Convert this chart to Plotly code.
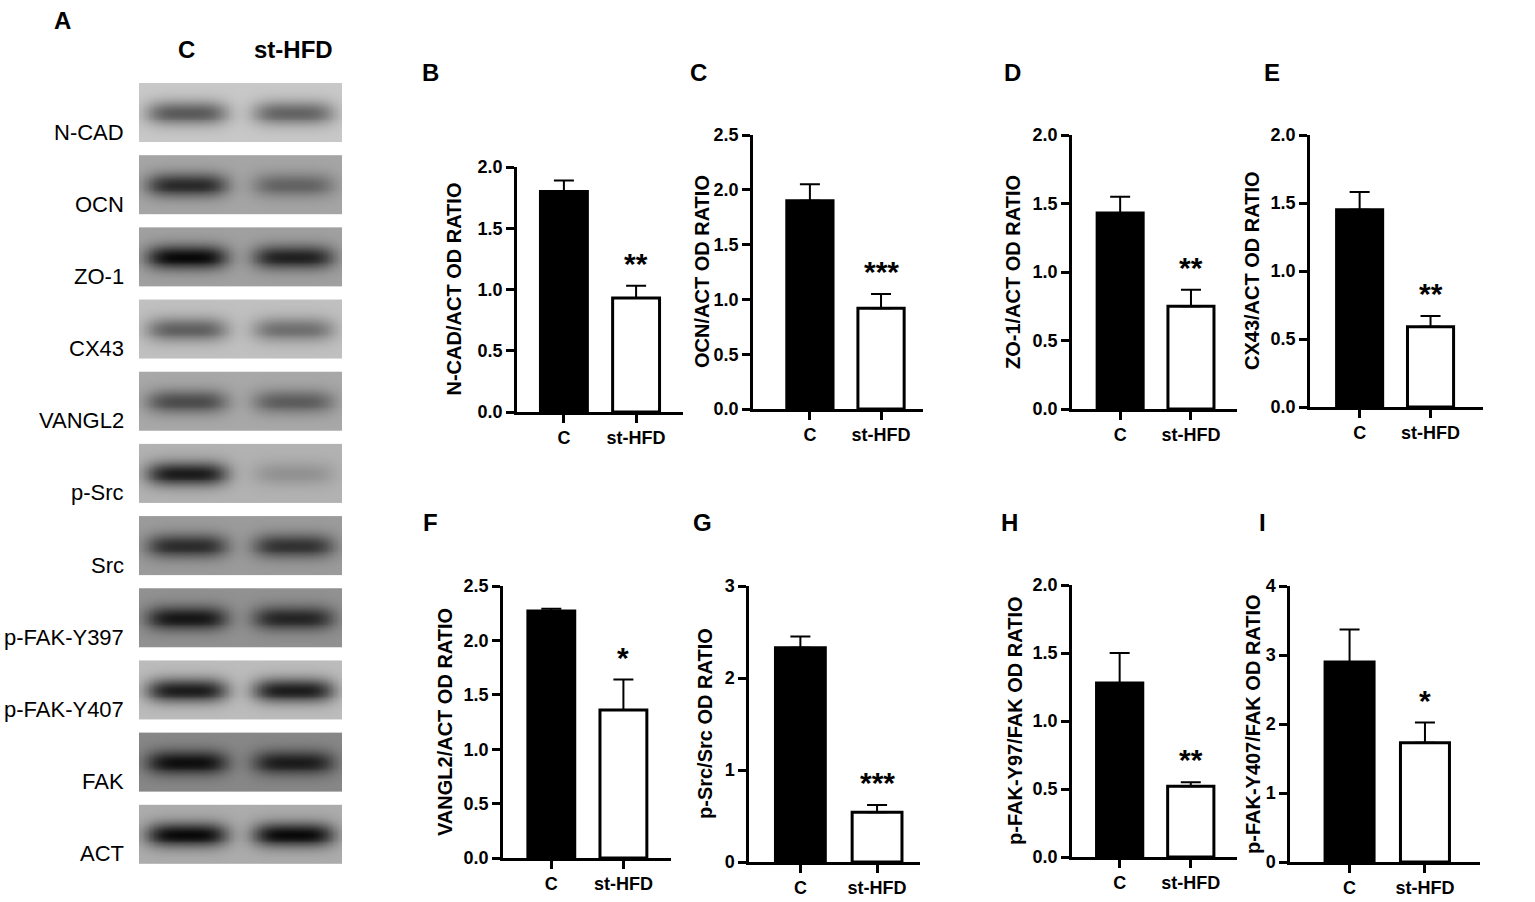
import numpy as np
import plotly.graph_objects as go

W, H = 1535, 902
FONT = "Liberation Sans, Arial, sans-serif"

# ---------------- data: quantification panels B-I ----------------
groups = ["C", "st-HFD"]
panel_letters = ["B", "C", "D", "E", "F", "G", "H", "I"]
y_titles = ["N-CAD/ACT OD RATIO", "OCN/ACT OD RATIO", "ZO-1/ACT OD RATIO",
            "CX43/ACT OD RATIO", "VANGL2/ACT OD RATIO", "p-Src/Src OD RATIO",
            "p-FAK-Y97/FAK OD RATIO", "p-FAK-Y407/FAK OD RATIO"]
means_C = [1.80, 1.90, 1.43, 1.45, 2.27, 2.33, 1.28, 2.90]
means_HFD = [0.93, 0.92, 0.75, 0.59, 1.36, 0.54, 0.52, 1.73]
sem_C = [0.09, 0.15, 0.12, 0.13, 0.02, 0.12, 0.22, 0.47]
sem_HFD = [0.10, 0.13, 0.12, 0.08, 0.28, 0.08, 0.03, 0.29]
stars = ["**", "***", "**", "**", "*", "***", "**", "*"]
y_max = [2.0, 2.5, 2.0, 2.0, 2.5, 3, 2.0, 4]
y_dtick = [0.5, 0.5, 0.5, 0.5, 0.5, 1, 0.5, 1]

# ---------------- data: western blot panel A ----------------
blot_names = ["N-CAD", "OCN", "ZO-1", "CX43", "VANGL2", "p-Src", "Src",
              "p-FAK-Y397", "p-FAK-Y407", "FAK", "ACT"]
band_C = [0.55, 0.75, 0.95, 0.50, 0.55, 0.85, 0.72, 0.85, 0.85, 0.90, 0.95]
band_HFD = [0.50, 0.40, 0.80, 0.42, 0.45, 0.18, 0.68, 0.75, 0.85, 0.80, 0.95]
membrane_gray = [200, 165, 160, 192, 168, 178, 155, 145, 188, 135, 172]

# ---------------- layout geometry (pixels) ----------------
# x-domain px, y-domain px (top of axis, zero line), x range
panel_geo = [
    (517, 683, 167, 412, -0.65, 1.65),
    (753, 923, 135, 409, -0.80, 1.59),
    (1072, 1237, 135, 409, -0.68, 1.65),
    (1310, 1483, 135, 407, -0.70, 1.74),
    (503, 671, 586, 858, -0.67, 1.66),
    (749, 920, 586, 862, -0.67, 1.56),
    (1072, 1237, 585, 857, -0.67, 1.65),
    (1290, 1480, 586, 862, -0.79, 1.73),
]
title_offset = [64, 51, 59, 58, 58, 44, 57, 37]
letter_pos = [(430, 72), (698, 72), (1012, 72), (1272, 72),
              (430, 522), (702, 522), (1010, 522), (1262, 522)]


def px_x(p):
    return p / W


def px_y(p):
    return 1 - p / H


fig = go.Figure()
annotations = []
layout_axes = {}

for k in range(8):
    n = k + 1
    xa = "x" if n == 1 else f"x{n}"
    ya = "y" if n == 1 else f"y{n}"
    xl, xr, yt, yb, r0, r1 = panel_geo[k]

    fig.add_trace(go.Bar(
        x=[0, 1], y=[means_C[k], means_HFD[k]],
        width=0.65,
        marker=dict(color=["black", "white"], line=dict(color="black", width=3)),
        error_y=dict(type="data", symmetric=False,
                     array=[sem_C[k], sem_HFD[k]], arrayminus=[0, 0],
                     color="black", thickness=2, width=10),
        xaxis=xa, yaxis=ya, showlegend=False, hoverinfo="y",
    ))

    axkey = "xaxis" if n == 1 else f"xaxis{n}"
    aykey = "yaxis" if n == 1 else f"yaxis{n}"
    layout_axes[axkey] = dict(
        domain=[px_x(xl), px_x(xr)], range=[r0, r1], anchor=ya, automargin=False,
        tickvals=[0, 1], ticktext=groups, showline=True, linecolor="black",
        linewidth=2.5, ticks="outside", ticklen=8, tickwidth=2.5, tickcolor="black",
        showgrid=False, zeroline=False, fixedrange=True,
        tickfont=dict(family=FONT, size=18, color="black", weight="bold"),
    )
    layout_axes[aykey] = dict(
        domain=[px_y(yb), px_y(yt)], range=[0, y_max[k]], anchor=xa, automargin=False,
        dtick=y_dtick[k], tick0=0, tickformat=".1f" if y_dtick[k] < 1 else "d",
        showline=True, linecolor="black", linewidth=2.5, ticks="outside",
        ticklen=8, tickwidth=2.5, tickcolor="black", showgrid=False,
        zeroline=False, fixedrange=True,
        tickfont=dict(family=FONT, size=18, color="black", weight="bold"),
    )

    # y-axis title
    annotations.append(dict(
        text=y_titles[k], textangle=-90, showarrow=False,
        xref=f"{xa} domain", yref=f"{ya} domain", x=0, y=0.5,
        xshift=-title_offset[k], xanchor="center", yanchor="middle",
        font=dict(family=FONT, size=20, color="black", weight="bold"),
    ))
    # significance stars
    annotations.append(dict(
        text=stars[k], showarrow=False, xref=xa, yref=ya,
        x=1, y=means_HFD[k] + sem_HFD[k], yanchor="bottom", xanchor="center",
        yshift=4, font=dict(family=FONT, size=30, color="black", weight="bold"),
    ))
    # panel letter
    lx, ly = letter_pos[k]
    annotations.append(dict(
        text=panel_letters[k], showarrow=False, xref="paper", yref="paper",
        x=px_x(lx), y=px_y(ly), xanchor="center", yanchor="middle",
        font=dict(family=FONT, size=24, color="black", weight="bold"),
    ))

# ---------------- blot panel (A) ----------------
nb = len(blot_names)
half_h = 0.41
lane_c = [0.47, 1.52]
xe = np.linspace(0, 2, 161)
xc = (xe[:-1] + xe[1:]) / 2
for i in range(nb):
    ye = np.linspace(i - half_h, i + half_h, 61)
    yc = (ye[:-1] + ye[1:]) / 2
    X, Y = np.meshgrid(xc, yc)
    vprof = np.exp(-((Y - i) / 0.17) ** 2)
    gC = np.exp(-((X - lane_c[0]) / 0.40) ** 4) * vprof
    gH = np.exp(-((X - lane_c[1]) / 0.40) ** 4) * vprof
    z = membrane_gray[i] * (1 - band_C[i] * gC - band_HFD[i] * gH)
    fig.add_trace(go.Heatmap(
        x=xe, y=ye, z=z, zmin=0, zmax=255, zsmooth="best",
        colorscale=[[0, "rgb(0,0,0)"], [1, "rgb(255,255,255)"]],
        showscale=False, xaxis="x9", yaxis="y9", hoverinfo="skip",
    ))
    annotations.append(dict(
        text=blot_names[i], showarrow=False, xref="x9 domain", yref="y9",
        x=0, y=i + 0.27, xshift=-13, xanchor="right", yanchor="middle",
        font=dict(family=FONT, size=22, color="black"),
    ))

blot_top = 83 - (0.5 - half_h) * 72.1
blot_bot = 864 + (0.5 - half_h) * 72.1
layout_axes["xaxis9"] = dict(domain=[px_x(139), px_x(342)], range=[0, 2],
                             visible=False, anchor="y9", fixedrange=True,
                             automargin=False)
layout_axes["yaxis9"] = dict(domain=[px_y(blot_bot), px_y(blot_top)],
                             range=[nb - 0.5, -0.5], visible=False, anchor="x9",
                             fixedrange=True, automargin=False)

for j, g in enumerate(groups):
    annotations.append(dict(
        text=g, showarrow=False, xref="x9", yref="paper", x=lane_c[j],
        y=px_y(49), xanchor="center", yanchor="middle",
        font=dict(family=FONT, size=24, color="black", weight="bold"),
    ))
annotations.append(dict(
    text="A", showarrow=False, xref="paper", yref="paper", x=px_x(62),
    y=px_y(20), xanchor="center", yanchor="middle",
    font=dict(family=FONT, size=24, color="black", weight="bold"),
))

fig.update_layout(
    width=W, height=H, margin=dict(l=0, r=0, t=0, b=0),
    paper_bgcolor="white", plot_bgcolor="white",
    font=dict(family=FONT, color="black"),
    annotations=annotations, bargap=0.3, **layout_axes,
)

fig.write_html(
    "out.html",
    config={"displayModeBar": False},
    post_script="document.body.style.margin='0';document.body.style.overflow='hidden';",
)
